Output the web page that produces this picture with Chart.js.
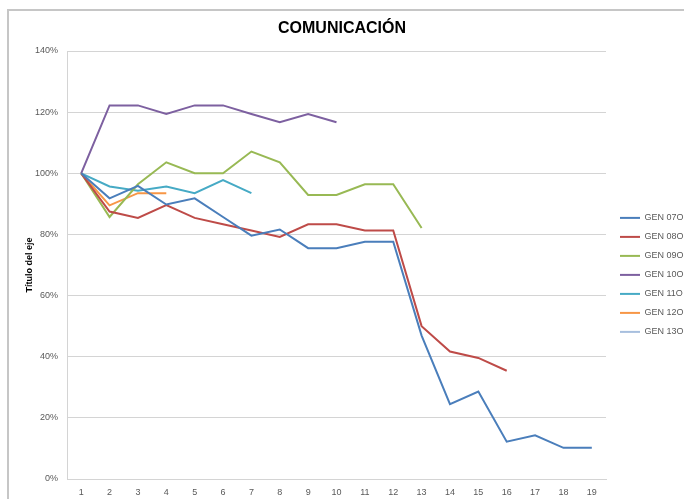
<!DOCTYPE html>
<html>
<head>
<meta charset="utf-8">
<script src="https://cdn.jsdelivr.net/npm/chart.js@4/dist/chart.umd.min.js"></script>
<style>
    html, body { margin: 0; padding: 0; background: #fff; }
    #wrap { position: relative; width: 684px; height: 499px; overflow: hidden; }
    #marco { position: absolute; left: 7px; top: 9px; width: 720px; height: 540px; border: 2px solid #c6c6c6; box-sizing: border-box; }
    canvas { position: absolute; left: 0; top: 0; }
</style>
</head>
<body>
<div id="wrap">
    <div id="marco"></div>
    <canvas id="grafico" width="684" height="499"></canvas>
</div>
<script>
// Datos
const categorias = ['1', '2', '3', '4', '5', '6', '7', '8', '9', '10', '11', '12', '13', '14', '15', '16', '17', '18', '19'];
const gen07 = [1, 0.918, 0.959, 0.898, 0.918, 0.857, 0.796, 0.816, 0.755, 0.755, 0.776, 0.776, 0.469, 0.245, 0.286, 0.122, 0.143, 0.102, 0.102];
const gen08 = [1, 0.875, 0.854, 0.896, 0.854, 0.833, 0.813, 0.792, 0.833, 0.833, 0.813, 0.813, 0.500, 0.417, 0.396, 0.354];
const gen09 = [1, 0.857, 0.964, 1.036, 1.000, 1.000, 1.071, 1.036, 0.929, 0.929, 0.964, 0.964, 0.821];
const gen10 = [1, 1.222, 1.222, 1.194, 1.222, 1.222, 1.194, 1.167, 1.194, 1.167];
const gen11 = [1, 0.957, 0.943, 0.957, 0.935, 0.978, 0.935];
const gen12 = [1, 0.895, 0.935, 0.935];
const gen13 = [1];
const nombres = ['GEN 07O', 'GEN 08O', 'GEN 09O', 'GEN 10O', 'GEN 11O', 'GEN 12O', 'GEN 13O'];
const colores = ['#4A7EBB', '#BE4B48', '#98B954', '#7D60A0', '#46AAC5', '#F79646', '#A7BFDE'];

const series = [gen07, gen08, gen09, gen10, gen11, gen12, gen13];
const fuente = "'Liberation Sans', Arial, sans-serif";

new Chart(document.getElementById('grafico').getContext('2d'), {
    type: 'line',
    data: {
        labels: categorias,
        datasets: series.map((d, i) => ({
            label: nombres[i],
            data: d,
            borderColor: colores[i],
            backgroundColor: colores[i],
            borderWidth: 2,
            pointRadius: 0,
            tension: 0,
            fill: false
        }))
    },
    options: {
        responsive: false,
        animation: false,
        layout: { padding: { left: 0, right: 0, top: 0, bottom: 0 } },
        plugins: {
            title: {
                display: true,
                text: 'COMUNICACIÓN',
                color: '#000',
                font: { family: fuente, size: 16, weight: 'bold' },
                padding: { top: 19, bottom: 12.8 }
            },
            legend: {
                position: 'right',
                maxWidth: 74,
                // título vacío solo para bajar la leyenda
                title: { display: true, text: ' ', font: { family: fuente, size: 9 }, padding: { top: 40, bottom: 0 } },
                labels: {
                    color: '#595959',
                    font: { family: fuente, size: 9 },
                    boxWidth: 20,
                    boxHeight: 2,
                    padding: 10,
                    generateLabels: (chart) => {
                        const base = Chart.defaults.plugins.legend.labels.generateLabels(chart);
                        return base.map(l => ({ ...l, fillStyle: l.strokeStyle, lineWidth: 0 }));
                    }
                }
            },
            tooltip: { enabled: false }
        },
        scales: {
            x: {
                offset: true,
                grid: { display: false, drawTicks: false },
                border: { color: '#d4d4d4', width: 1 },
                ticks: { color: '#595959', font: { family: fuente, size: 9 }, padding: 8, maxRotation: 0, autoSkip: false },
                afterFit: (s) => { s.height = 20; }
            },
            y: {
                min: 0,
                max: 1.4,
                ticks: {
                    stepSize: 0.2,
                    color: '#595959',
                    font: { family: fuente, size: 9 },
                    padding: 9,
                    callback: (v) => Math.round(v * 100) + '%'
                },
                grid: { color: '#d4d4d4', lineWidth: 1, drawTicks: false },
                border: { color: '#d4d4d4', width: 1 },
                title: {
                    display: true,
                    text: 'Título del eje',
                    color: '#000',
                    font: { family: fuente, size: 9, weight: 'bold' },
                    padding: { top: 24.5 }
                },
                afterFit: (s) => { s.width = 67; }
            },
            // eje vacío para dejar hueco antes de la leyenda
            y2: {
                position: 'right',
                display: true,
                grid: { display: false, drawTicks: false },
                border: { display: false },
                ticks: { display: false },
                afterFit: (s) => { s.width = 4; }
            }
        }
    }
});
</script>
</body>
</html>
